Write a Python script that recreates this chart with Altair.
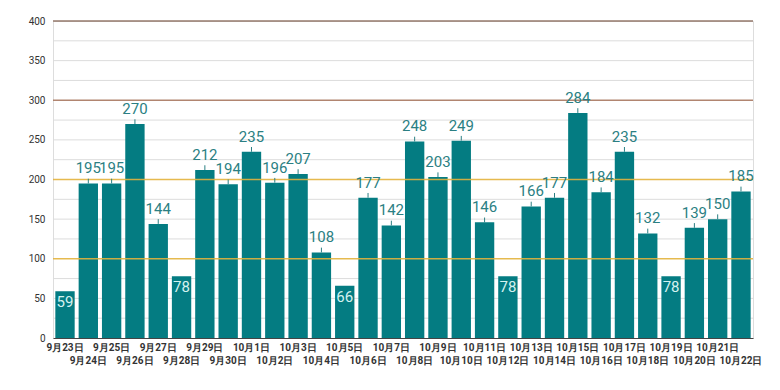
import json
import altair as alt
import pandas as pd

dates = ["9月23日", "9月24日", "9月25日", "9月26日", "9月27日", "9月28日", "9月29日", "9月30日",
         "10月1日", "10月2日", "10月3日", "10月4日", "10月5日", "10月6日", "10月7日", "10月8日",
         "10月9日", "10月10日", "10月11日", "10月12日", "10月13日", "10月14日", "10月15日",
         "10月16日", "10月17日", "10月18日", "10月19日", "10月20日", "10月21日", "10月22日"]
values = [59, 195, 195, 270, 144, 78, 212, 194,
          235, 196, 207, 108, 66, 177, 142, 248,
          203, 249, 146, 78, 166, 177, 284,
          184, 235, 132, 78, 139, 150, 185]
y_ticks = [0, 50, 100, 150, 200, 250, 300, 350, 400]
grid_values = [25, 50, 75, 125, 150, 175, 225, 250, 275, 325, 350, 375]
ref_values = [100, 200, 300, 400]
ref_colors = ["#e3b23c", "#e3b23c", "#a87860", "#8a6a5c"]

df = pd.DataFrame({"date": dates, "value": values})
ref_df = pd.DataFrame({"y": ref_values, "c": ref_colors})
grid_df = pd.DataFrame({"y": grid_values})

second_row = dates[1::2]
FONT = "Roboto"
BAR = "#047c82"

x_enc = alt.X("date:N", sort=dates, title=None,
              scale=alt.Scale(paddingInner=0.17, paddingOuter=0.1),
              axis=alt.Axis(labelAngle=0, ticks=False, domainColor="#444", domainWidth=1.2,
                            labelFont=FONT, labelFontSize=10, labelFontWeight="bold",
                            labelColor="#333",
                            labelPadding={"condition": {"test": "indexof(" + json.dumps(second_row, ensure_ascii=False) + ", datum.value) >= 0", "value": 17}, "value": 4},
                            labelOverlap=False))
y_scale = alt.Scale(domain=[0, 400], nice=False)
y_axis = alt.Axis(values=y_ticks, labelOverlap=False, grid=False, ticks=False, domain=False,
                  labelFont=FONT, labelFontSize=10, labelColor="#333", labelPadding=8)


def yenc(field):
    return alt.Y(field, scale=y_scale, title=None, axis=y_axis)


grid = alt.Chart(grid_df).mark_rule(color="#dcdcdc", strokeWidth=1).encode(y=yenc("y:Q"))

base = alt.Chart(df)

bars = base.mark_bar(color=BAR).encode(x=x_enc, y=yenc("value:Q"))

refs = alt.Chart(ref_df).mark_rule(strokeWidth=1.6, opacity=0.9).encode(
    y=yenc("y:Q"),
    color=alt.Color("c:N", scale=None),
)

ticks = base.transform_filter("datum.value >= 100").transform_calculate(
    top="datum.value + 6").mark_rule(color="#2b7f83", strokeWidth=1).encode(
    x=alt.X("date:N", sort=dates),
    y=yenc("value:Q"),
    y2="top:Q",
)

out_labels = base.transform_filter("datum.value >= 100").mark_text(
    baseline="bottom", dy=-7, font=FONT, fontSize=15, color="#2b7f83").encode(
    x=alt.X("date:N", sort=dates),
    y=yenc("value:Q"),
    text="value:Q",
)

in_labels = base.transform_filter("datum.value < 100").mark_text(
    baseline="top", dy=4, font=FONT, fontSize=15, color="#d4f2f0").encode(
    x=alt.X("date:N", sort=dates),
    y=yenc("value:Q"),
    text="value:Q",
)

chart = alt.layer(grid, bars, refs, ticks, out_labels, in_labels).properties(
    width=700, height=317,
    autosize=alt.AutoSizeParams(type="none"),
    padding={"left": 45, "top": 13, "right": 19, "bottom": 30},
).configure_view(stroke=None).configure(background="white")

chart.save("out.html", embed_options={"renderer": "svg", "actions": False})
